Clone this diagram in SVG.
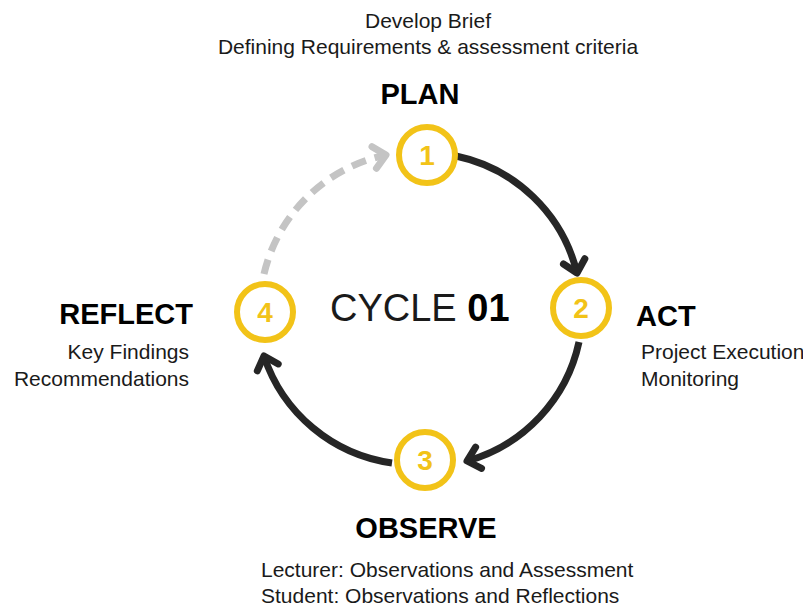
<svg xmlns="http://www.w3.org/2000/svg" width="803" height="606" viewBox="0 0 803 606">
  <style>
    .txt { font-family: "Liberation Sans", Arial, sans-serif; fill: #1a1a1a; }
    .body { font-size: 21px; }
    .head { font-size: 29px; font-weight: bold; fill: #000; }
    .ring { fill: #fff; stroke: #F2C318; stroke-width: 6; }
    .num { font-family: "Liberation Sans", Arial, sans-serif; font-size: 28px; font-weight: bold; fill: #F2C318; text-anchor: middle; }
    .flow { fill: none; stroke: #262626; stroke-width: 7; }
    .back { fill: none; stroke: #C4C4C4; stroke-width: 7; stroke-dasharray: 15 9; }
  </style>
  <defs>
    <marker id="chev" markerUnits="userSpaceOnUse" orient="auto" overflow="visible" markerWidth="1" markerHeight="1">
      <path d="M -12 -11 L 0 0 L -12 11" fill="none" stroke="#262626" stroke-width="7" stroke-linecap="round" stroke-linejoin="round"/>
    </marker>
    <marker id="chev-grey" markerUnits="userSpaceOnUse" orient="auto" overflow="visible" markerWidth="1" markerHeight="1">
      <path d="M -12 -11 L 0 0 L -12 11" fill="none" stroke="#C4C4C4" stroke-width="7" stroke-linecap="round" stroke-linejoin="round"/>
    </marker>
  </defs>

  <rect width="803" height="606" fill="#fff"/>

  <!-- cycle arcs -->
  <g id="connectors">
    <path class="flow" d="M 456 156 A 158 158 0 0 1 577 273" marker-end="url(#chev)"/>
    <path class="flow" d="M 579 342 A 158 158 0 0 1 467 461" marker-end="url(#chev)"/>
    <path class="flow" d="M 392 463 A 158 158 0 0 1 264 356" marker-end="url(#chev)"/>
    <path class="back" d="M 264 274 A 158 158 0 0 1 386 155" marker-end="url(#chev-grey)"/>
  </g>

  <g id="centre-title">
    <text class="txt" x="330" y="321" font-size="38">CYCLE <tspan font-weight="bold" fill="#000">01</tspan></text>
  </g>

  <g id="node-plan">
    <circle class="ring" cx="427" cy="155" r="28"/>
    <text class="num" x="427" y="165">1</text>
    <text class="txt head" x="420" y="104" text-anchor="middle">PLAN</text>
    <text class="txt body" x="428" y="28" text-anchor="middle">Develop Brief</text>
    <text class="txt body" x="428" y="54" text-anchor="middle">Defining Requirements &amp; assessment criteria</text>
  </g>

  <g id="node-act">
    <circle class="ring" cx="581" cy="308" r="28"/>
    <text class="num" x="581" y="318">2</text>
    <text class="txt head" x="636" y="326">ACT</text>
    <text class="txt body" x="641" y="359">Project Execution</text>
    <text class="txt body" x="641" y="386">Monitoring</text>
  </g>

  <g id="node-observe">
    <circle class="ring" cx="425" cy="460" r="28"/>
    <text class="num" x="425" y="470">3</text>
    <text class="txt head" x="426" y="538" text-anchor="middle">OBSERVE</text>
    <text class="txt body" x="261" y="577">Lecturer: Observations and Assessment</text>
    <text class="txt body" x="261" y="603">Student: Observations and Reflections</text>
  </g>

  <g id="node-reflect">
    <circle class="ring" cx="265" cy="312" r="28"/>
    <text class="num" x="265" y="322">4</text>
    <text class="txt head" x="193" y="324" text-anchor="end">REFLECT</text>
    <text class="txt body" x="189" y="359" text-anchor="end">Key Findings</text>
    <text class="txt body" x="189" y="386" text-anchor="end">Recommendations</text>
  </g>
</svg>
